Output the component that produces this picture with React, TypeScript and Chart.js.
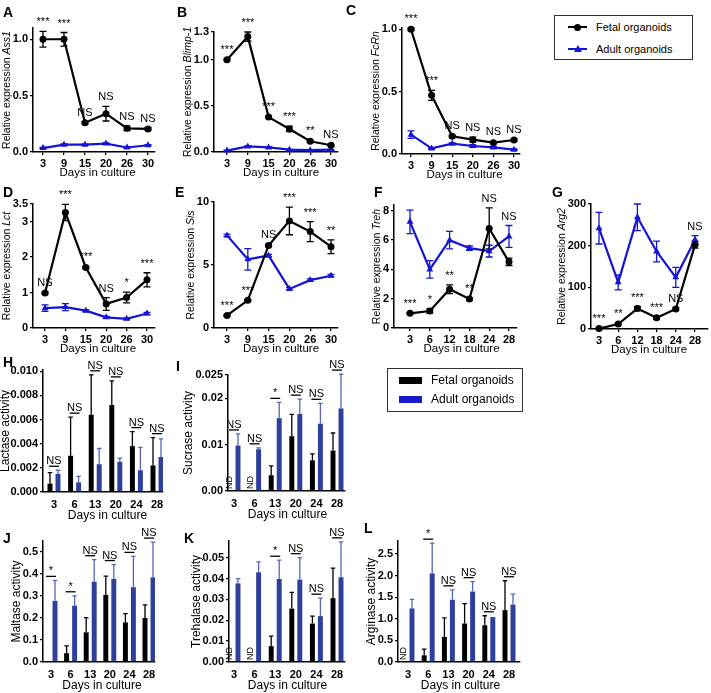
import React, { useEffect, useRef } from 'react';
import { Chart, registerables } from 'chart.js';

Chart.register(...registerables);

const FONT = 'Arial, "Liberation Sans", Helvetica, sans-serif';
const LINE_BLUE = '#1414d2';
const BAR_BLUE = '#2f3f9c';
const BAR_BLUE_ERR = '#5566bb';

// ---------------- Data ----------------
const daysEarly = ['3', '9', '15', '20', '26', '30'];
const daysLate = ['3', '6', '12', '18', '24', '28'];
const daysActivity = ['3', '6', '13', '20', '24', '28'];

// A – Ass1
const ass1Fetal = [1.0, 1.0, 0.26, 0.34, 0.21, 0.205];
const ass1FetalErr = [0.07, 0.06, 0.01, 0.065, 0.02, 0.01];
const ass1Adult = [0.035, 0.065, 0.065, 0.075, 0.04, 0.06];
const ass1AdultErr = [0.005, 0.006, 0.005, 0.006, 0.005, 0.005];
const ass1Sig = ['***', '***', 'NS', 'NS', 'NS', 'NS'];
const ass1Ticks = [0, 0.5, 1.0];
const ass1TickLabels = ['0.0', '0.5', '1.0'];

// B – Blimp-1
const blimpFetal = [1.0, 1.25, 0.378, 0.25, 0.116, 0.073];
const blimpFetalErr = [0.01, 0.05, 0.01, 0.03, 0.01, 0.01];
const blimpAdult = [0.015, 0.06, 0.05, 0.025, 0.02, 0.025];
const blimpAdultErr = [0.004, 0.005, 0.005, 0.004, 0.004, 0.004];
const blimpSig = ['***', '***', '***', '***', '**', 'NS'];
const blimpTicks = [0, 0.5, 1.0, 1.3];
const blimpTickLabels = ['0.0', '0.5', '1.0', '1.3'];

// C – FcRn
const fcrnFetal = [1.0, 0.47, 0.142, 0.115, 0.091, 0.112];
const fcrnFetalErr = [0.01, 0.04, 0.01, 0.02, 0.01, 0.01];
const fcrnAdult = [0.155, 0.045, 0.083, 0.064, 0.053, 0.035];
const fcrnAdultErr = [0.03, 0.005, 0.006, 0.01, 0.005, 0.005];
const fcrnSig = ['***', '***', 'NS', 'NS', 'NS', 'NS'];
const fcrnTicks = [0, 0.5, 1.0];
const fcrnTickLabels = ['0.0', '0.5', '1.0'];

// D – Lct
const lctFetal = [0.99, 3.26, 1.71, 0.68, 0.86, 1.36];
const lctFetalErr = [0.03, 0.23, 0.03, 0.18, 0.15, 0.2];
const lctAdult = [0.56, 0.59, 0.49, 0.3, 0.26, 0.41];
const lctAdultErr = [0.09, 0.1, 0.03, 0.03, 0.02, 0.03];
const lctSig = ['NS', '***', '***', 'NS', '*', '***'];
const lctTicks = [0, 1, 2, 3, 3.5];
const lctTickLabels = ['0', '1', '2', '3', '3.5'];

// E – Sis
const sisFetal = [1.0, 2.2, 6.55, 8.5, 7.65, 6.45];
const sisFetalErr = [0.05, 0.05, 0.1, 1.1, 0.8, 0.55];
const sisAdult = [7.35, 5.45, 5.75, 3.1, 3.8, 4.15];
const sisAdultErr = [0.1, 0.85, 0.1, 0.1, 0.1, 0.1];
const sisSig = ['***', '***', 'NS', '***', '***', '**'];
const sisTicks = [0, 5, 10];
const sisTickLabels = ['0', '5', '10'];

// F – Treh
const trehFetal = [1.0, 1.16, 2.65, 1.98, 6.8, 4.52];
const trehFetalErr = [0.05, 0.15, 0.3, 0.1, 1.4, 0.25];
const trehAdult = [7.25, 4.0, 6.0, 5.45, 5.25, 6.25];
const trehAdultErr = [0.8, 0.6, 0.6, 0.15, 0.4, 0.75];
const trehSig = ['***', '*', '**', '**', 'NS', 'NS'];
const trehTicks = [0, 2, 4, 6, 8];
const trehTickLabels = ['0', '2', '4', '6', '8'];

// G – Arg2
const arg2Fetal = [1, 12, 49, 27, 48, 202];
const arg2FetalErr = [1, 2, 5, 3, 3, 8];
const arg2Adult = [242, 112, 268, 186, 124, 214];
const arg2AdultErr = [38, 18, 32, 25, 24, 10];
const arg2Sig = ['***', '**', '***', '***', 'NS', 'NS'];
const arg2Ticks = [0, 100, 200, 300];
const arg2TickLabels = ['0', '100', '200', '300'];

// H – Lactase activity
const lactaseFetal = [0.0007, 0.003, 0.0064, 0.0072, 0.0038, 0.0022];
const lactaseFetalErr = [0.0009, 0.0032, 0.0033, 0.002, 0.0012, 0.0023];
const lactaseAdult = [0.0015, 0.0008, 0.0023, 0.0025, 0.0018, 0.0029];
const lactaseAdultErr = [0.0003, 0.0005, 0.0013, 0.0003, 0.0019, 0.0015];
const lactaseSig = ['NS', 'NS', 'NS', 'NS', 'NS', 'NS'];
const lactaseTicks = [0, 0.002, 0.004, 0.006, 0.008, 0.01];
const lactaseTickLabels = ['0.000', '0.002', '0.004', '0.006', '0.008', '0.010'];

// I – Sucrase activity (null = ND)
const sucraseFetal = [null, null, 0.0034, 0.0118, 0.0066, 0.0087];
const sucraseFetalErr = [0, 0, 0.002, 0.0047, 0.0014, 0.0038];
const sucraseAdult = [0.0098, 0.009, 0.0157, 0.0166, 0.0145, 0.0178];
const sucraseAdultErr = [0.0025, 0.0003, 0.0034, 0.0032, 0.0044, 0.0074];
const sucraseSig = ['NS', 'NS', '*', 'NS', 'NS', 'NS'];
const sucraseTicks = [0, 0.01, 0.02, 0.025];
const sucraseTickLabels = ['0.00', '0.01', '0.02', '0.025'];

// J – Maltase activity
const maltaseFetal = [0, 0.04, 0.135, 0.305, 0.18, 0.2];
const maltaseFetalErr = [0, 0.033, 0.067, 0.085, 0.04, 0.06];
const maltaseAdult = [0.278, 0.256, 0.365, 0.378, 0.34, 0.385];
const maltaseAdultErr = [0.093, 0.045, 0.1, 0.065, 0.14, 0.16];
const maltaseSig = ['*', '*', 'NS', 'NS', 'NS', 'NS'];
const maltaseTicks = [0, 0.1, 0.2, 0.3, 0.4, 0.5];
const maltaseTickLabels = ['0.0', '0.1', '0.2', '0.3', '0.4', '0.5'];

// K – Trehalase activity
const trehalaseFetal = [null, null, 0.0076, 0.0256, 0.0184, 0.0306];
const trehalaseFetalErr = [0, 0, 0.0048, 0.0078, 0.0036, 0.0144];
const trehalaseAdult = [0.0377, 0.043, 0.0398, 0.0395, 0.022, 0.0406];
const trehalaseAdultErr = [0.0023, 0.005, 0.009, 0.0105, 0.0086, 0.017];
const trehalaseSig = ['', '', '*', 'NS', 'NS', 'NS'];
const trehalaseTicks = [0, 0.01, 0.02, 0.03, 0.04, 0.05];
const trehalaseTickLabels = ['0.00', '0.01', '0.02', '0.03', '0.04', '0.05'];

// L – Arginase activity
const arginaseFetal = [null, 0.155, 0.58, 0.89, 0.85, 1.2];
const arginaseFetalErr = [0, 0.145, 0.44, 0.46, 0.22, 0.68];
const arginaseAdult = [1.24, 2.05, 1.44, 1.63, 1.04, 1.33];
const arginaseAdultErr = [0.21, 0.7, 0.23, 0.23, 0, 0.24];
const arginaseSig = ['', '*', 'NS', 'NS', 'NS', 'NS'];
const arginaseTicks = [0, 0.5, 1.0, 1.5, 2.0, 2.5];
const arginaseTickLabels = ['0.0', '0.5', '1.0', '1.5', '2.0', '2.5'];

// ---------------- Layout / specs ----------------
type Box = { axisX: number; right: number; top: number; bottom: number; first: number; last: number };
type Spec = {
  kind: 'line' | 'bar';
  cats: string[];
  fetal: (number | null)[];
  fetalErr: number[];
  adult: number[];
  adultErr: number[];
  sig: string[];
  yMax: number;
  yTicks: number[];
  yTickLabels: string[];
  yTitle: string;
  yTitleItalic: string;
  box: Box;
};

const PL = 70;
const PT = 24;
const PR = 14;
const PB = 40;

const specs: Spec[] = [
  { kind: 'line', cats: daysEarly, fetal: ass1Fetal, fetalErr: ass1FetalErr, adult: ass1Adult, adultErr: ass1AdultErr, sig: ass1Sig, yMax: 1.1, yTicks: ass1Ticks, yTickLabels: ass1TickLabels, yTitle: 'Relative expression ', yTitleItalic: 'Ass1', box: { axisX: 33, right: 155, top: 28, bottom: 152, first: 43, last: 148 } },
  { kind: 'line', cats: daysEarly, fetal: blimpFetal, fetalErr: blimpFetalErr, adult: blimpAdult, adultErr: blimpAdultErr, sig: blimpSig, yMax: 1.3, yTicks: blimpTicks, yTickLabels: blimpTickLabels, yTitle: 'Relative expression ', yTitleItalic: 'Blimp-1', box: { axisX: 214, right: 338, top: 32, bottom: 152, first: 227, last: 331 } },
  { kind: 'line', cats: daysEarly, fetal: fcrnFetal, fetalErr: fcrnFetalErr, adult: fcrnAdult, adultErr: fcrnAdultErr, sig: fcrnSig, yMax: 1.01, yTicks: fcrnTicks, yTickLabels: fcrnTickLabels, yTitle: 'Relative expression ', yTitleItalic: 'FcRn', box: { axisX: 402, right: 520, top: 28, bottom: 154, first: 411, last: 514 } },
  { kind: 'line', cats: daysEarly, fetal: lctFetal, fetalErr: lctFetalErr, adult: lctAdult, adultErr: lctAdultErr, sig: lctSig, yMax: 3.5, yTicks: lctTicks, yTickLabels: lctTickLabels, yTitle: 'Relative expression ', yTitleItalic: 'Lct', box: { axisX: 33, right: 155, top: 204, bottom: 328, first: 45, last: 147 } },
  { kind: 'line', cats: daysEarly, fetal: sisFetal, fetalErr: sisFetalErr, adult: sisAdult, adultErr: sisAdultErr, sig: sisSig, yMax: 10, yTicks: sisTicks, yTickLabels: sisTickLabels, yTitle: 'Relative expression ', yTitleItalic: 'Sis', box: { axisX: 214, right: 338, top: 202, bottom: 328, first: 227, last: 331 } },
  { kind: 'line', cats: daysLate, fetal: trehFetal, fetalErr: trehFetalErr, adult: trehAdult, adultErr: trehAdultErr, sig: trehSig, yMax: 8.4, yTicks: trehTicks, yTickLabels: trehTickLabels, yTitle: 'Relative expression ', yTitleItalic: 'Treh', box: { axisX: 394, right: 517, top: 205, bottom: 328, first: 410, last: 509 } },
  { kind: 'line', cats: daysLate, fetal: arg2Fetal, fetalErr: arg2FetalErr, adult: arg2Adult, adultErr: arg2AdultErr, sig: arg2Sig, yMax: 300, yTicks: arg2Ticks, yTickLabels: arg2TickLabels, yTitle: 'Relative expression ', yTitleItalic: 'Arg2', box: { axisX: 591, right: 708, top: 204, bottom: 329, first: 599, last: 695 } },
  { kind: 'bar', cats: daysActivity, fetal: lactaseFetal, fetalErr: lactaseFetalErr, adult: lactaseAdult, adultErr: lactaseAdultErr, sig: lactaseSig, yMax: 0.0101, yTicks: lactaseTicks, yTickLabels: lactaseTickLabels, yTitle: 'Lactase activity', yTitleItalic: '', box: { axisX: 43, right: 163, top: 370, bottom: 492, first: 54, last: 157 } },
  { kind: 'bar', cats: daysActivity, fetal: sucraseFetal, fetalErr: sucraseFetalErr, adult: sucraseAdult, adultErr: sucraseAdultErr, sig: sucraseSig, yMax: 0.025, yTicks: sucraseTicks, yTickLabels: sucraseTickLabels, yTitle: 'Sucrase activity', yTitleItalic: '', box: { axisX: 228, right: 345, top: 375, bottom: 491, first: 234, last: 337 } },
  { kind: 'bar', cats: daysActivity, fetal: maltaseFetal, fetalErr: maltaseFetalErr, adult: maltaseAdult, adultErr: maltaseAdultErr, sig: maltaseSig, yMax: 0.55, yTicks: maltaseTicks, yTickLabels: maltaseTickLabels, yTitle: 'Maltase activity', yTitleItalic: '', box: { axisX: 43, right: 155, top: 541, bottom: 662, first: 51, last: 149 } },
  { kind: 'bar', cats: daysActivity, fetal: trehalaseFetal, fetalErr: trehalaseFetalErr, adult: trehalaseAdult, adultErr: trehalaseAdultErr, sig: trehalaseSig, yMax: 0.058, yTicks: trehalaseTicks, yTickLabels: trehalaseTickLabels, yTitle: 'Trehalase activity', yTitleItalic: '', box: { axisX: 229, right: 345, top: 541, bottom: 662, first: 234, last: 337 } },
  { kind: 'bar', cats: daysActivity, fetal: arginaseFetal, fetalErr: arginaseFetalErr, adult: arginaseAdult, adultErr: arginaseAdultErr, sig: arginaseSig, yMax: 2.8, yTicks: arginaseTicks, yTickLabels: arginaseTickLabels, yTitle: 'Arginase activity', yTitleItalic: '', box: { axisX: 398, right: 520, top: 541, bottom: 662, first: 408, last: 509 } },
];

const letters: { t: string; x: number; y: number }[] = [
  { t: 'A', x: 3, y: 4 },
  { t: 'B', x: 177, y: 4 },
  { t: 'C', x: 346, y: 2 },
  { t: 'D', x: 3, y: 184 },
  { t: 'E', x: 175, y: 184 },
  { t: 'F', x: 374, y: 184 },
  { t: 'G', x: 552, y: 184 },
  { t: 'H', x: 3, y: 354 },
  { t: 'I', x: 176, y: 358 },
  { t: 'J', x: 3, y: 530 },
  { t: 'K', x: 184, y: 530 },
  { t: 'L', x: 364, y: 520 },
];

// ---------------- Plugin ----------------
function makePlugin(s: Spec) {
  const isBar = s.kind === 'bar';
  return {
    id: 'panelDecor',
    beforeDatasetsDraw(chart: any) {
      if (isBar) return;
      const ctx = chart.ctx;
      const xs = chart.scales.x;
      const ys = chart.scales.y;
      const series = [
        { v: s.adult as (number | null)[], e: s.adultErr, c: LINE_BLUE },
        { v: s.fetal, e: s.fetalErr, c: '#000' },
      ];
      ctx.save();
      series.forEach((se) => {
        se.v.forEach((v, i) => {
          const e = se.e[i];
          if (v == null || !e) return;
          const x = xs.getPixelForValue(i);
          const yt = ys.getPixelForValue(v + e);
          const yb = ys.getPixelForValue(Math.max(0, v - e));
          ctx.strokeStyle = se.c;
          ctx.lineWidth = 1.3;
          ctx.beginPath();
          ctx.moveTo(x, yt);
          ctx.lineTo(x, yb);
          ctx.moveTo(x - 3.5, yt);
          ctx.lineTo(x + 3.5, yt);
          ctx.moveTo(x - 3.5, yb);
          ctx.lineTo(x + 3.5, yb);
          ctx.stroke();
        });
      });
      ctx.restore();
    },
    afterDatasetsDraw(chart: any) {
      if (!isBar) return;
      const ctx = chart.ctx;
      const ys = chart.scales.y;
      const groups = [
        { v: s.fetal, e: s.fetalErr, c: '#000', d: 0 },
        { v: s.adult as (number | null)[], e: s.adultErr, c: BAR_BLUE_ERR, d: 1 },
      ];
      ctx.save();
      groups.forEach((g) => {
        const meta = chart.getDatasetMeta(g.d);
        g.v.forEach((v, i) => {
          const e = g.e[i];
          if (v == null || !e) return;
          const el = meta.data[i];
          const x = el.x;
          const y0 = ys.getPixelForValue(v);
          const yt = ys.getPixelForValue(v + e);
          const half = el.width * 0.45;
          ctx.strokeStyle = g.c;
          ctx.lineWidth = 1.3;
          ctx.beginPath();
          ctx.moveTo(x, y0);
          ctx.lineTo(x, yt);
          ctx.moveTo(x - half, yt);
          ctx.lineTo(x + half, yt);
          ctx.stroke();
        });
      });
      ctx.restore();
    },
    afterDraw(chart: any) {
      const ctx = chart.ctx;
      const xs = chart.scales.x;
      const ys = chart.scales.y;
      const area = chart.chartArea;
      ctx.save();
      ctx.fillStyle = '#000';
      ctx.strokeStyle = '#000';

      // Y title
      const tickFont = `bold 11px ${FONT}`;
      ctx.font = tickFont;
      let maxW = 0;
      s.yTickLabels.forEach((l) => {
        maxW = Math.max(maxW, ctx.measureText(l).width);
      });
      const titleSize = isBar ? 12 : 10.5;
      const minTx = 6 - (s.box.axisX - PL);
      const tx = Math.max(minTx, area.left - 3 - 2 - maxW - 1 - titleSize * 0.45);
      const ty = (area.top + area.bottom) / 2;
      ctx.font = `${titleSize}px ${FONT}`;
      const w1 = ctx.measureText(s.yTitle).width;
      ctx.font = `italic ${titleSize}px ${FONT}`;
      const w2 = s.yTitleItalic ? ctx.measureText(s.yTitleItalic).width : 0;
      ctx.translate(tx, ty);
      ctx.rotate(-Math.PI / 2);
      ctx.textBaseline = 'middle';
      ctx.textAlign = 'left';
      ctx.font = `${titleSize}px ${FONT}`;
      ctx.fillText(s.yTitle, -(w1 + w2) / 2, 0);
      if (s.yTitleItalic) {
        ctx.font = `italic ${titleSize}px ${FONT}`;
        ctx.fillText(s.yTitleItalic, -(w1 + w2) / 2 + w1, 0);
      }
      ctx.setTransform(1, 0, 0, 1, 0, 0);

      // X title
      ctx.font = `${isBar ? 12 : 11.5}px ${FONT}`;
      ctx.textAlign = 'center';
      ctx.textBaseline = 'middle';
      const xCenter = (xs.getPixelForValue(0) + xs.getPixelForValue(s.cats.length - 1)) / 2 + 2;
      ctx.fillText('Days in culture', xCenter, area.bottom + (isBar ? 24 : 21));

      // significance labels
      ctx.font = `11px ${FONT}`;
      ctx.textAlign = 'center';
      ctx.textBaseline = 'alphabetic';
      s.sig.forEach((lab, i) => {
        if (!lab) return;
        const x = xs.getPixelForValue(i);
        const f = s.fetal[i];
        const fTop = (f ?? 0) + (s.fetalErr[i] || 0);
        const aTop = s.adult[i] + (s.adultErr[i] || 0);
        if (!isBar) {
          const aBot = s.adult[i] - (s.adultErr[i] || 0);
          const fTopPx = ys.getPixelForValue(fTop);
          const aTopPx = ys.getPixelForValue(aTop);
          const aBotPx = ys.getPixelForValue(aBot);
          let anchor = fTopPx;
          if (aTop > fTop && fTopPx - aBotPx < 18) anchor = aTopPx;
          ctx.fillText(lab, x, anchor - 6);
        } else {
          const topPx = ys.getPixelForValue(Math.max(fTop, aTop));
          const lineY = topPx - 4;
          ctx.lineWidth = 1.3;
          ctx.beginPath();
          ctx.moveTo(x - 5, lineY);
          ctx.lineTo(x + 5, lineY);
          ctx.stroke();
          ctx.fillText(lab, x, lineY - 2);
        }
      });

      // ND labels
      if (isBar) {
        const metaA = chart.getDatasetMeta(1);
        s.fetal.forEach((v, i) => {
          if (v !== null) return;
          const xc = xs.getPixelForValue(i);
          const off = metaA.data[i].x - xc;
          const x = xc - off;
          ctx.save();
          ctx.translate(x, area.bottom - 2);
          ctx.rotate(-Math.PI / 2);
          ctx.font = `9px ${FONT}`;
          ctx.textAlign = 'left';
          ctx.textBaseline = 'middle';
          ctx.fillText('ND', 0, 0);
          ctx.restore();
        });
      }
      ctx.restore();
    },
  };
}

function buildConfig(s: Spec): any {
  const b = s.box;
  const n = s.cats.length;
  const spacing = (b.last - b.first) / (n - 1);
  const xMin = -(b.first - b.axisX) / spacing;
  const xMax = n - 1 + (b.right - b.last) / spacing;
  const isBar = s.kind === 'bar';
  const tickFont = { family: FONT, size: 11, weight: 'bold' as const };

  const datasets = isBar
    ? [
        {
          label: 'Fetal organoids',
          data: s.fetal.map((v, i) => ({ x: i, y: v })),
          backgroundColor: '#000',
          borderWidth: 0,
          categoryPercentage: 16 / spacing,
          barPercentage: 0.62,
        },
        {
          label: 'Adult organoids',
          data: s.adult.map((v, i) => ({ x: i, y: v })),
          backgroundColor: BAR_BLUE,
          borderWidth: 0,
          categoryPercentage: 16 / spacing,
          barPercentage: 0.62,
        },
      ]
    : [
        {
          label: 'Fetal organoids',
          data: s.fetal.map((v, i) => ({ x: i, y: v })),
          borderColor: '#000',
          backgroundColor: '#000',
          borderWidth: 2.2,
          pointStyle: 'circle',
          pointRadius: 3.5,
          pointBorderWidth: 0,
          tension: 0,
          clip: false,
        },
        {
          label: 'Adult organoids',
          data: s.adult.map((v, i) => ({ x: i, y: v })),
          borderColor: LINE_BLUE,
          backgroundColor: LINE_BLUE,
          borderWidth: 2.2,
          pointStyle: 'triangle',
          pointRadius: 4,
          pointBorderWidth: 0,
          tension: 0,
          clip: false,
        },
      ];

  return {
    type: isBar ? 'bar' : 'line',
    data: { datasets },
    options: {
      responsive: false,
      animation: false,
      events: [],
      layout: { padding: { left: 0, top: PT, right: PR, bottom: 0 } },
      plugins: { legend: { display: false }, tooltip: { enabled: false } },
      scales: {
        x: {
          type: 'linear',
          min: xMin,
          max: xMax,
          offset: false,
          afterBuildTicks: (sc: any) => {
            sc.ticks = s.cats.map((_, i) => ({ value: i }));
          },
          afterFit: (sc: any) => {
            sc.height = PB;
            sc.paddingLeft = 0;
            sc.paddingRight = 0;
          },
          ticks: {
            callback: (v: number) => s.cats[Math.round(v)] ?? '',
            font: tickFont,
            color: '#000',
            padding: isBar ? 3 : 2,
            autoSkip: false,
            maxRotation: 0,
            minRotation: 0,
            includeBounds: false,
          },
          grid: {
            display: !isBar,
            offset: false,
            drawOnChartArea: false,
            drawTicks: true,
            tickLength: 3,
            color: '#000',
            lineWidth: 1.3,
          },
          border: { display: true, color: '#000', width: 1.5 },
        },
        y: {
          type: 'linear',
          min: 0,
          max: s.yMax,
          afterBuildTicks: (sc: any) => {
            sc.ticks = s.yTicks.map((v) => ({ value: v }));
          },
          afterFit: (sc: any) => {
            sc.width = PL;
            sc.paddingTop = 0;
            sc.paddingBottom = 0;
          },
          ticks: {
            callback: (_v: number, idx: number) => s.yTickLabels[idx],
            font: tickFont,
            color: '#000',
            padding: 2,
            autoSkip: false,
          },
          grid: {
            display: true,
            drawOnChartArea: false,
            drawTicks: true,
            tickLength: 3,
            color: '#000',
            lineWidth: 1.3,
          },
          border: { display: true, color: '#000', width: 1.5 },
        },
      },
    },
    plugins: [makePlugin(s)],
  };
}

function Panel({ spec }: { spec: Spec }) {
  const ref = useRef<HTMLCanvasElement>(null);
  const b = spec.box;
  const W = b.right - b.axisX + PL + PR;
  const H = b.bottom - b.top + PT + PB;
  useEffect(() => {
    if (!ref.current) return;
    const chart = new Chart(ref.current, buildConfig(spec));
    return () => chart.destroy();
  }, [spec]);
  return (
    <canvas
      ref={ref}
      width={W}
      height={H}
      style={{ position: 'absolute', left: b.axisX - PL, top: b.top - PT, width: W, height: H }}
    />
  );
}

function LineLegend() {
  const row = (label: string, color: string, tri: boolean, top: number) => (
    <div style={{ position: 'absolute', left: 0, top, height: 14, width: 136 }}>
      <div style={{ position: 'absolute', left: 13, top: 6, width: 19, height: 2, background: color }} />
      {tri ? (
        <div
          style={{
            position: 'absolute',
            left: 18.5,
            top: 3,
            width: 0,
            height: 0,
            borderLeft: '4px solid transparent',
            borderRight: '4px solid transparent',
            borderBottom: `7px solid ${color}`,
          }}
        />
      ) : (
        <div style={{ position: 'absolute', left: 19, top: 3.5, width: 7, height: 7, borderRadius: '50%', background: color }} />
      )}
      <div style={{ position: 'absolute', left: 41, top: 0, fontFamily: FONT, fontSize: 11, lineHeight: '14px', color: '#000', whiteSpace: 'nowrap' }}>
        {label}
      </div>
    </div>
  );
  return (
    <div style={{ position: 'absolute', left: 554, top: 15, width: 137, height: 43, border: '1px solid #333' }}>
      {row('Fetal organoids', '#000', false, 4)}
      {row('Adult organoids', LINE_BLUE, true, 26)}
    </div>
  );
}

function BarLegend() {
  const row = (label: string, color: string, top: number) => (
    <div style={{ position: 'absolute', left: 0, top, height: 14, width: 134 }}>
      <div style={{ position: 'absolute', left: 11, top: 3.5, width: 23, height: 7, background: color }} />
      <div style={{ position: 'absolute', left: 43, top: 0, fontFamily: FONT, fontSize: 12, lineHeight: '14px', color: '#000', whiteSpace: 'nowrap' }}>
        {label}
      </div>
    </div>
  );
  return (
    <div style={{ position: 'absolute', left: 387, top: 368, width: 134, height: 42, border: '1px solid #333' }}>
      {row('Fetal organoids', '#000', 4)}
      {row('Adult organoids', '#1a1ac8', 23)}
    </div>
  );
}

export default function App() {
  return (
    <div
      style={{
        position: 'absolute',
        left: 0,
        top: 0,
        width: 711,
        height: 693,
        overflow: 'hidden',
        background: '#fff',
      }}
    >
      {specs.map((s, i) => (
        <Panel key={i} spec={s} />
      ))}
      {letters.map((l) => (
        <div
          key={l.t}
          style={{
            position: 'absolute',
            left: l.x,
            top: l.y,
            fontFamily: FONT,
            fontWeight: 'bold',
            fontSize: 14,
            lineHeight: '16px',
            color: '#000',
          }}
        >
          {l.t}
        </div>
      ))}
      <LineLegend />
      <BarLegend />
    </div>
  );
}
